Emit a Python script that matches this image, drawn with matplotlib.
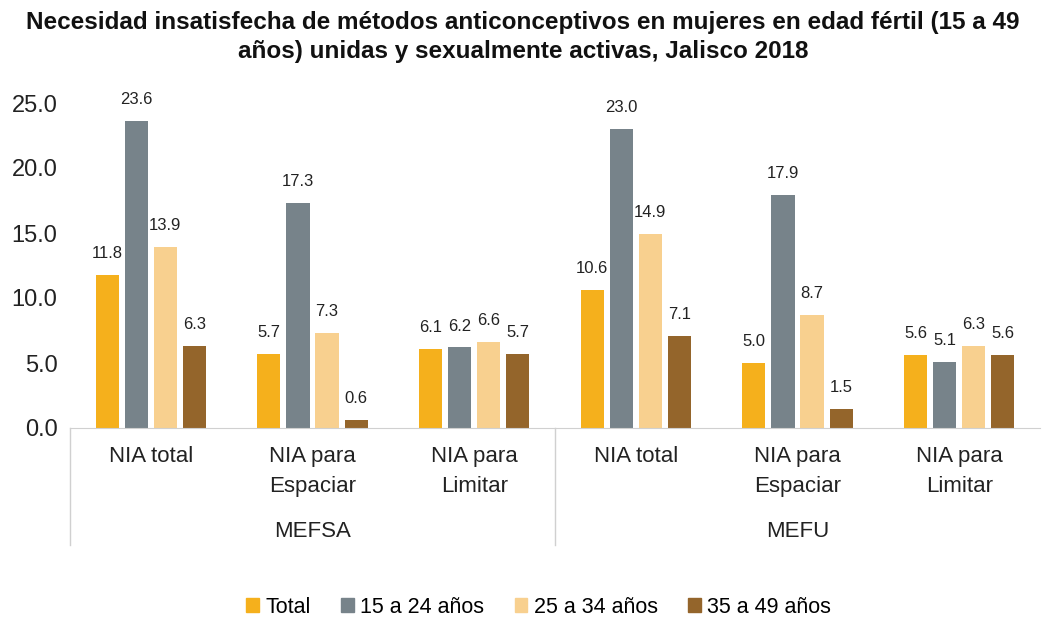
import matplotlib
matplotlib.use("Agg")
import matplotlib.pyplot as plt
from matplotlib.lines import Line2D
from matplotlib.patches import Patch
import numpy as np

plt.rcParams['font.family'] = ['Liberation Sans', 'DejaVu Sans']

categories = ["NIA total", "NIA para\nEspaciar", "NIA para\nLimitar",
              "NIA total", "NIA para\nEspaciar", "NIA para\nLimitar"]
groups = ["MEFSA", "MEFU"]
series_names = ["Total", "15 a 24 años", "25 a 34 años", "35 a 49 años"]
total = [11.8, 5.7, 6.1, 10.6, 5.0, 5.6]
edad_15_24 = [23.6, 17.3, 6.2, 23.0, 17.9, 5.1]
edad_25_34 = [13.9, 7.3, 6.6, 14.9, 8.7, 6.3]
edad_35_49 = [6.3, 0.6, 5.7, 7.1, 1.5, 5.6]
yticks = [0.0, 5.0, 10.0, 15.0, 20.0, 25.0]
title = ("Necesidad insatisfecha de métodos anticonceptivos en mujeres en edad fértil (15 a 49\n"
         "años) unidas y sexualmente activas, Jalisco 2018")

colors = ["#F5B01C", "#77838A", "#F8D08F", "#94652B"]
series = [total, edad_15_24, edad_25_34, edad_35_49]

fig = plt.figure(figsize=(10.46, 6.22), dpi=100)
ax = fig.add_axes([70/1046, 1-428/622, 970/1046, 325/622])

x = np.arange(len(categories))
width = 0.143
pitch = 0.18
for i, (vals, c) in enumerate(zip(series, colors)):
    pos = x + (i - 1.5) * pitch
    ax.bar(pos, vals, width, color=c, label=series_names[i])
    for xp, v in zip(pos, vals):
        ax.annotate(f"{v:.1f}", (xp, v), xytext=(0, 10), textcoords="offset points",
                    ha="center", va="bottom", fontsize=12, color="#222222")

ax.set_xlim(-0.5, len(categories) - 0.5)
ax.set_ylim(0, 25)
ax.set_yticks(yticks)
ax.set_yticklabels([f"{t:.1f}" for t in yticks], fontsize=17, color="#222222")
ax.tick_params(axis='y', length=0, pad=9)
ax.set_xticks([])
for s in ["top", "right", "left"]:
    ax.spines[s].set_visible(False)
ax.spines["bottom"].set_color("#D0D0D0")

trans = ax.get_xaxis_transform()
for xi, lab in zip(x, categories):
    ax.text(xi, -0.055, lab, transform=trans, ha="center", va="top", fontsize=16,
            color="#222222", linespacing=1.6)
for gi, g in enumerate(groups):
    ax.text(1 + 3 * gi, -0.285, g, transform=trans, ha="center", va="top", fontsize=16,
            color="#222222")
for xs in [-0.5, 2.5]:
    ax.add_line(Line2D([xs, xs], [0, -0.36], transform=trans, color="#D0D0D0",
                       lw=1, clip_on=False))

fig.suptitle(title, fontsize=17.5, fontweight="bold", y=0.983, color="#111111",
             linespacing=1.35)

handles = [Patch(color=c) for c in colors]
fig.legend(handles, series_names, loc="center", bbox_to_anchor=(0.515, 0.024),
           ncol=4, frameon=False, fontsize=15.5, handlelength=0.6, handleheight=0.6,
           handletextpad=0.3, columnspacing=1.4)

fig.savefig("out.png", dpi=100)
